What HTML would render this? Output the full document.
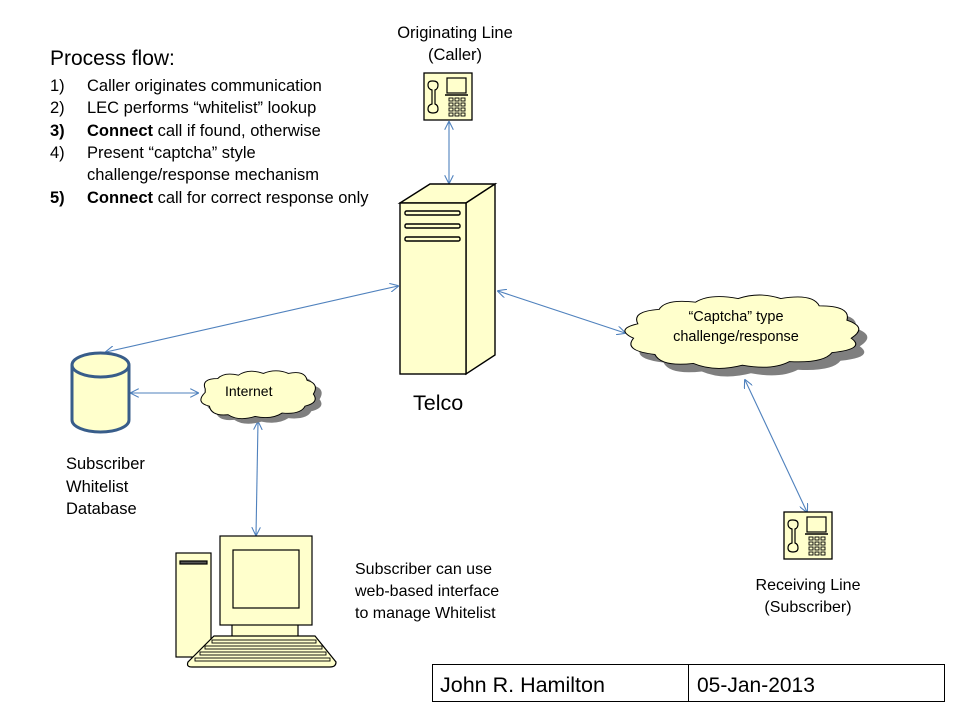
<!DOCTYPE html>
<html><head><meta charset="utf-8"><style>
html,body{margin:0;padding:0;background:#fff;}
svg{display:block;}
text{font-family:"Liberation Sans",sans-serif;fill:#000;}
</style></head><body>
<svg width="960" height="720" viewBox="0 0 960 720" xmlns="http://www.w3.org/2000/svg">
<defs>
<marker id="a" viewBox="0 0 10 10" refX="9" refY="5" markerWidth="9" markerHeight="9" orient="auto-start-reverse" markerUnits="userSpaceOnUse">
<path d="M0,0 L10,5 L0,10" fill="none" stroke="#4f81bd" stroke-width="1.2"/></marker>
<g id="phone">
<rect x="0" y="0" width="48" height="47" fill="#ffffcc" stroke="#000" stroke-width="1.3"/>
<path d="M8,8 q-4,0 -4,4 q0,4 4,5 l0,14 q-4,1 -4,5 q0,4 5,4 q5,0 5,-4 q0,-4 -3,-5 l0,-14 q3,-1 3,-5 q0,-4 -5,-4 z" fill="none" stroke="#000" stroke-width="1.2"/>
<rect x="23" y="5" width="19" height="15" fill="none" stroke="#000" stroke-width="1.2"/>
<line x1="21" y1="22" x2="44" y2="22" stroke="#000" stroke-width="1.5"/>
<g fill="none" stroke="#000" stroke-width="0.9">
<rect x="25" y="25" width="4" height="3"/><rect x="31" y="25" width="4" height="3"/><rect x="37" y="25" width="4" height="3"/>
<rect x="25" y="30" width="4" height="3"/><rect x="31" y="30" width="4" height="3"/><rect x="37" y="30" width="4" height="3"/>
<rect x="25" y="35" width="4" height="3"/><rect x="31" y="35" width="4" height="3"/><rect x="37" y="35" width="4" height="3"/>
<rect x="25" y="40" width="4" height="3"/><rect x="31" y="40" width="4" height="3"/><rect x="37" y="40" width="4" height="3"/>
</g></g>
</defs>

<!-- Process flow text -->
<text x="50" y="65" font-size="21">Process flow:</text>
<g font-size="16.5">
<text x="50" y="91">1)</text><text x="87" y="91">Caller originates communication</text>
<text x="50" y="113">2)</text><text x="87" y="113">LEC performs “whitelist” lookup</text>
<text x="50" y="136" font-weight="bold">3)</text><text x="87" y="136"><tspan font-weight="bold">Connect</tspan> call if found, otherwise</text>
<text x="50" y="158">4)</text><text x="87" y="158">Present “captcha” style</text>
<text x="87" y="180">challenge/response mechanism</text>
<text x="50" y="203" font-weight="bold">5)</text><text x="87" y="203"><tspan font-weight="bold">Connect</tspan> call for correct response only</text>
</g>

<!-- Originating line -->
<text x="455" y="38" font-size="16.5" text-anchor="middle">Originating Line</text>
<text x="455" y="60" font-size="16.5" text-anchor="middle">(Caller)</text>
<use href="#phone" x="424" y="73"/>

<!-- connectors -->
<g stroke="#4f81bd" stroke-width="1.1" fill="none" marker-start="url(#a)" marker-end="url(#a)">
<line x1="449" y1="122" x2="449" y2="183"/>
<line x1="106" y1="352" x2="398" y2="286"/>
<line x1="131" y1="393" x2="198" y2="393"/>
<line x1="498" y1="291" x2="625" y2="333"/>
<line x1="258" y1="422" x2="256" y2="535"/>
<line x1="745" y1="380" x2="807" y2="512"/>
</g>

<!-- Server -->
<g stroke="#000" stroke-width="1.4" fill="#ffffcc">
<polygon points="400,203 430,184 495,184 466,203"/>
<polygon points="466,203 495,184 495,355 466,374"/>
<rect x="400" y="203" width="66" height="171"/>
<rect x="405" y="211" width="55" height="4" rx="1.5"/>
<rect x="405" y="224" width="55" height="4" rx="1.5"/>
<rect x="405" y="237" width="55" height="4" rx="1.5"/>
</g>
<text x="413" y="410" font-size="21.5">Telco</text>

<!-- Database -->
<g stroke="#385d8a" stroke-width="3" fill="#ffffcc">
<path d="M72,365 L72,420 A28.5,12 0 0 0 129,420 L129,365"/>
<ellipse cx="100.5" cy="365" rx="28.5" ry="12"/>
</g>
<g font-size="16.5"><text x="66" y="469">Subscriber</text><text x="66" y="492">Whitelist</text><text x="66" y="514">Database</text></g>

<!-- Internet cloud -->
<g transform="translate(200,370) scale(1.04,0.86) translate(-200,-363)">
<path transform="translate(6,6)" d="M205,385 q-4,-12 12,-12 q6,-8 20,-4 q10,-8 24,-2 q12,-6 24,0 q16,-4 18,8 q12,4 6,16 q6,10 -8,14 q-4,10 -22,8 q-10,8 -26,4 q-16,6 -26,-2 q-16,2 -18,-10 q-14,-4 -4,-16z" fill="#7f7f7f"/>
<path d="M205,385 q-4,-12 12,-12 q6,-8 20,-4 q10,-8 24,-2 q12,-6 24,0 q16,-4 18,8 q12,4 6,16 q6,10 -8,14 q-4,10 -22,8 q-10,8 -26,4 q-16,6 -26,-2 q-16,2 -18,-10 q-14,-4 -4,-16z" fill="#ffffcc" stroke="#000" stroke-width="1"/>
</g>
<text x="225" y="396" font-size="14">Internet</text>

<!-- Captcha cloud -->
<g transform="translate(625,295) scale(1.067,0.9) translate(-620,-288)">
<path transform="translate(8,9)" d="M632,320 q-6,-14 20,-16 q6,-12 34,-8 q14,-10 40,-4 q20,-8 40,0 q30,-6 36,8 q30,0 26,16 q20,8 4,20 q14,12 -18,16 q-8,12 -40,10 q-16,10 -44,4 q-26,8 -46,-2 q-30,4 -36,-10 q-30,-4 -20,-18 q-18,-10 4,-16z" fill="#7f7f7f"/>
<path d="M632,320 q-6,-14 20,-16 q6,-12 34,-8 q14,-10 40,-4 q20,-8 40,0 q30,-6 36,8 q30,0 26,16 q20,8 4,20 q14,12 -18,16 q-8,12 -40,10 q-16,10 -44,4 q-26,8 -46,-2 q-30,4 -36,-10 q-30,-4 -20,-18 q-18,-10 4,-16z" fill="#ffffcc" stroke="#000" stroke-width="1"/>
</g>
<text x="736" y="321" font-size="14.5" text-anchor="middle">“Captcha” type</text>
<text x="736" y="341" font-size="14.5" text-anchor="middle">challenge/response</text>

<!-- Receiving phone -->
<use href="#phone" x="784" y="512"/>
<text x="808" y="590" font-size="16" text-anchor="middle">Receiving Line</text>
<text x="808" y="612" font-size="16" text-anchor="middle">(Subscriber)</text>

<!-- Computer -->
<g stroke="#000" stroke-width="1.2" fill="#ffffcc">
<rect x="176" y="553" width="35" height="104"/>
<rect x="180" y="561" width="27" height="3" fill="#555"/>
<rect x="232" y="624" width="66" height="16"/>
<rect x="220" y="536" width="92" height="89"/>
<rect x="233" y="550" width="66" height="58"/>
<path d="M214,636 L315,636 L336,662 Q336,667 330,667 L192,667 Q186,667 188,662 Z"/>
<g fill="none" stroke-width="0.9">
<rect x="212" y="640" width="104" height="3"/>
<rect x="205" y="646" width="117" height="3"/>
<rect x="200" y="652" width="126" height="3"/>
<rect x="195" y="658" width="135" height="3"/>
</g>
</g>
<g font-size="16"><text x="355" y="574">Subscriber can use</text><text x="355" y="596">web-based interface</text><text x="355" y="618">to manage Whitelist</text></g>

<!-- Table -->
<rect x="432.5" y="664.5" width="512" height="37" fill="none" stroke="#000" stroke-width="1"/>
<line x1="688.5" y1="664" x2="688.5" y2="702" stroke="#000"/>
<text x="440" y="692" font-size="21.5">John R. Hamilton</text>
<text x="697" y="692" font-size="21">05-Jan-2013</text>
</svg>
</body></html>
